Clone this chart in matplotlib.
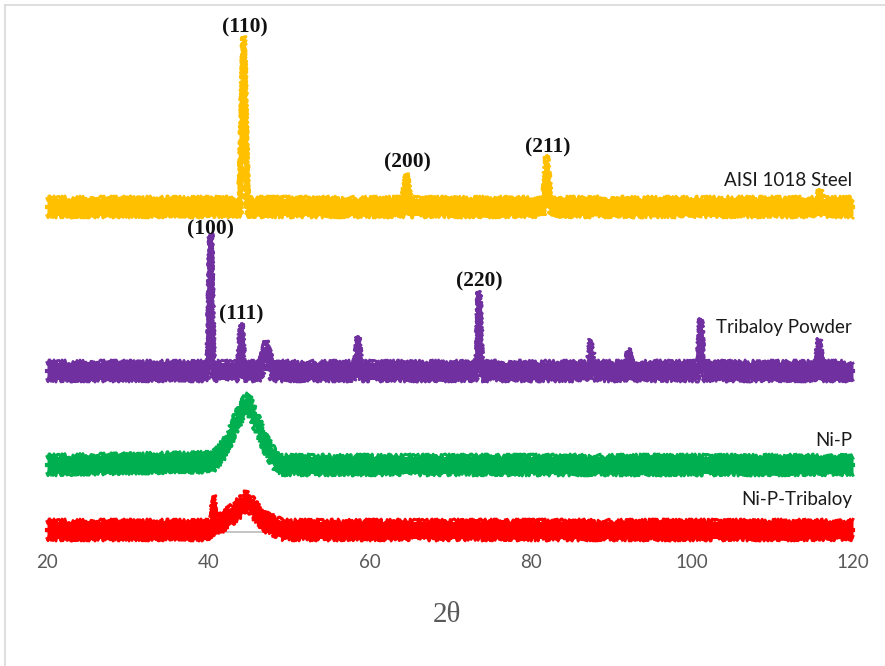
import matplotlib
matplotlib.use("Agg")
import matplotlib.pyplot as plt
from matplotlib.lines import Line2D

# ---------------- data ----------------
# centre line of each noisy trace, intensity in arbitrary units (stacked offsets included)
steel_x = [20, 43.95, 44.4, 44.85, 64.2, 64.6, 65.0, 81.6, 82.0, 82.4, 115.5, 115.9, 116.3, 120]
steel_y = [325, 325, 487, 325, 325, 350, 325, 325, 368, 325, 325, 334, 325, 325]

trib_x = [20, 40.0, 40.3, 40.6, 43.8, 44.1, 44.4, 46.5, 47.2, 47.9, 58.3, 58.6, 58.9,
          73.3, 73.6, 73.9, 87.2, 87.5, 87.8, 91.9, 92.2, 92.5, 100.8, 101.1, 101.4,
          115.5, 115.8, 116.1, 120]
trib_y = [161, 161, 290, 161, 161, 200, 161, 161, 183, 161, 161, 187, 161,
          161, 232, 161, 161, 184, 161, 161, 175, 161, 161, 205, 161,
          161, 185, 161, 161]

nip_x = [20, 40.6, 41.7, 42.9, 44.0, 44.9, 46.0, 47.3, 48.5, 49.3, 120]
nip_y = [67, 70, 80, 99, 119, 130, 109, 85, 69, 67, 67]

niptrib_x = [20, 40.45, 40.7, 40.95, 41.5, 42.9, 44.0, 44.8, 46.0, 47.3, 48.5, 49.3, 120]
niptrib_y = [2, 2, 28, 6, 9, 17, 25, 32, 19, 9, 5, 2, 2]

series_names = ["AISI 1018 Steel", "Tribaloy Powder", "Ni-P", "Ni-P-Tribaloy"]
series_label_y = [352, 205, 91, 32]

peak_labels = ["(110)", "(200)", "(211)", "(100)", "(111)", "(220)"]
peak_label_x = [44.6, 64.7, 82.1, 40.3, 44.1, 73.6]
peak_label_y = [505, 370, 385, 303, 218, 251]

xticks = [20, 40, 60, 80, 100, 120]

# ---------------- drawing ----------------
W, H = 885, 666
fig = plt.figure(figsize=(W / 100, H / 100), dpi=100)
fig.patch.set_facecolor("white")

ax = fig.add_axes([47 / W, (H - 532) / H, (853 - 47) / W, (532 - 20) / H])
ax.set_xlim(20, 120)
ax.set_ylim(0, 512)
for s in ax.spines.values():
    s.set_visible(False)
ax.set_yticks([])
ax.set_xticks(xticks)
ax.set_xticklabels([str(t) for t in xticks])
ax.tick_params(axis="x", length=0, pad=16, labelsize=13.5, labelcolor="#595959")
for lab in ax.get_xticklabels():
    lab.set_family(["Lato", "DejaVu Sans"])

# axis baseline
ax.plot([20, 120], [0, 0], color="#BFBFBF", lw=1.3, zorder=1, clip_on=False)

colors = ["#FFC000", "#7030A0", "#00B050", "#FF0000"]
data = [(steel_x, steel_y), (trib_x, trib_y), (nip_x, nip_y), (niptrib_x, niptrib_y)]
half = 8.5
for (xs, ys), c in zip(data, colors):
    lo = [v - half for v in ys]
    hi = [v + half for v in ys]
    band = ax.fill_between(xs, lo, hi, color=c, lw=0, zorder=3, clip_on=False)
    band.set_sketch_params(scale=3.0, length=1.5, randomness=2)
    ax.plot(xs, ys, color=c, lw=3.0, zorder=4, clip_on=False)
    for edge in (hi, lo):
        ln, = ax.plot(xs, edge, color=c, lw=2.0, zorder=4, clip_on=False)
        ln.set_sketch_params(scale=2.6, length=1.5, randomness=2)

for name, ly in zip(series_names, series_label_y):
    ax.text(119.9, ly, name, ha="right", va="center", fontsize=13.5,
            color="#1a1a1a", family=["Lato", "DejaVu Sans"], zorder=6)

for lab, lx, ly in zip(peak_labels, peak_label_x, peak_label_y):
    ax.text(lx, ly, lab, ha="center", va="center", fontsize=15.5, fontweight="bold",
            color="#111111", family=["Liberation Serif", "DejaVu Serif"], zorder=6,
            clip_on=False)

fig.text(447 / W, 1 - 615 / H, "2θ", ha="center", va="center", fontsize=21,
         color="#595959", family=["Liberation Serif", "DejaVu Serif"])

# outer chart frame (top and left visible)
fig.add_artist(Line2D([5 / W, 1], [1 - 5 / H, 1 - 5 / H], transform=fig.transFigure,
                      color="#D9D9D9", lw=1.2))
fig.add_artist(Line2D([5 / W, 5 / W], [0, 1 - 5 / H], transform=fig.transFigure,
                      color="#D9D9D9", lw=1.2))

fig.savefig("out.png", dpi=100, facecolor="white")
